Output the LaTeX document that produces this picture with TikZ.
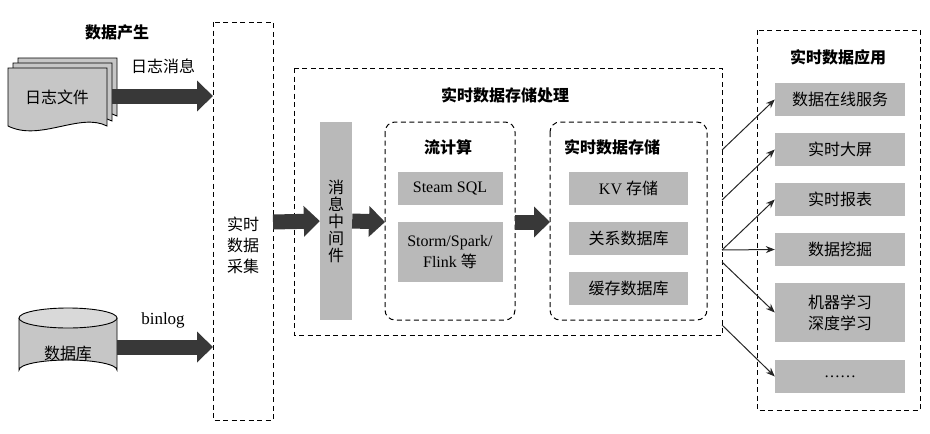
\documentclass[tikz,border=0pt]{standalone}
\usepackage{fontspec}
\setmainfont{Liberation Serif}
\newfontfamily\cjk{Noto Sans CJK SC}
\newfontfamily\lat{Liberation Serif}
\usetikzlibrary{arrows.meta}
\begin{document}
\begin{tikzpicture}[x=1pt,y=-1pt,
  txt/.style={font=\cjk\fontsize{16}{21}\selectfont},
  bold/.style={font=\cjk\bfseries\fontsize{16}{21}\selectfont},
  gbox/.style={fill=gray!55,draw=none,txt,align=center,inner sep=0},
  dbox/.style={draw,dash pattern=on 5pt off 3.5pt,line width=1pt},
  fat/.style={draw=black!78,line width=15pt,-{Triangle[length=16pt,width=30pt]}},
  thin/.style={draw=black!85,line width=1pt,-{Stealth[length=9pt,width=7pt]}}]
\useasboundingbox (0,0) rectangle (930,434);
% data generation
\node[bold] (t1) at (117,32) {数据产生};
\foreach \d in {10,5,0}{
 \draw[fill=gray!45,line width=0.9pt] (8+\d,68-\d) -- (107+\d,68-\d) -- (107+\d,126-\d)
   .. controls (80+\d,112-\d) and (40+\d,142-\d) .. (8+\d,126-\d) -- cycle;}
\node[txt] (log) at (57,97) {日志文件};
\coordinate (logE) at (112,96);
\draw[fill=gray!45,line width=0.9pt] (19,318) -- (19,370) arc[x radius=49,y radius=10,start angle=180,end angle=360] -- (117,318);
\draw[fill=gray!30,line width=0.9pt] (68,318) ellipse[x radius=49,y radius=10];
\node[txt] (db) at (68,353) {数据库};
\coordinate (dbE) at (117,347);
% collection
\draw[dbox] (213,22) rectangle (273,420);
\node[txt,align=center] (col) at (243,245) {实时\\数据\\采集};
\coordinate (colL1) at (213,96);
\coordinate (colL2) at (213,347);
\coordinate (colR) at (273,222);
\draw[fat] (logE) -- (colL1);
\draw[fat] (dbE) -- (colL2);
\node[txt] (m1) at (163,66) {日志消息};
\node[font=\lat\fontsize{17}{20}\selectfont] (m2) at (163,320) {binlog};
% processing
\draw[dbox] (294,68) rectangle (722,335);
\node[bold] (t2) at (505,95) {实时数据存储处理};
\node[gbox,minimum width=32,minimum height=198,font=\cjk\fontsize{16}{17}\selectfont] (mq) at (336,221) {消\\息\\中\\间\\件};
\draw[fat] (colR) -- (mq.west);
\draw[dbox,rounded corners=10] (385,122) rectangle (515,320);
\node[bold] (t3) at (448,147) {流计算};
\node[gbox,minimum width=105,minimum height=33] (sql) at (450,188.5) {\lat Steam SQL};
\node[gbox,minimum width=105,minimum height=60] (storm) at (450,252) {\lat Storm/Spark/\\\lat Flink \cjk 等};
\coordinate (scL) at (385,222);
\coordinate (scR) at (515,222);
\draw[fat] (mq.east) -- (scL);
\draw[dbox,rounded corners=10] (550,122) rectangle (707,320);
\node[bold] (t4) at (612,147) {实时数据存储};
\node[gbox,minimum width=119,minimum height=33] (kv) at (628.5,188.5) {\lat KV \cjk 存储};
\node[gbox,minimum width=119,minimum height=33] (rdb) at (628.5,238.5) {关系数据库};
\node[gbox,minimum width=119,minimum height=33] (cache) at (628.5,288.5) {缓存数据库};
\coordinate (stL) at (550,222);
\draw[fat] (scR) -- (stL);
% applications
\draw[dbox] (757,30) rectangle (920,410);
\node[bold] (t5) at (838,57) {实时数据应用};
\node[gbox,minimum width=130,minimum height=33] (a1) at (840,99.5) {数据在线服务};
\node[gbox,minimum width=130,minimum height=33] (a2) at (840,149.5) {实时大屏};
\node[gbox,minimum width=130,minimum height=33] (a3) at (840,199.5) {实时报表};
\node[gbox,minimum width=130,minimum height=33] (a4) at (840,249.5) {数据挖掘};
\node[gbox,minimum width=130,minimum height=59] (a5) at (840,312.5) {机器学习\\深度学习};
\node[gbox,minimum width=130,minimum height=33] (a6) at (840,376.5) {\lat ……};
\coordinate (s1) at (722,150);
\coordinate (s2) at (722,200);
\coordinate (s3) at (722,250);
\coordinate (s4) at (722,262);
\coordinate (s5) at (722,325);
\draw[thin] (s1) -- (a1.west);
\draw[thin] (s2) -- (a2.west);
\draw[thin] (s3) -- (a3.west);
\draw[thin] (s3) -- (a4.west);
\draw[thin] (s4) -- (a5.west);
\draw[thin] (s5) -- (a6.west);
\end{tikzpicture}
\end{document}
